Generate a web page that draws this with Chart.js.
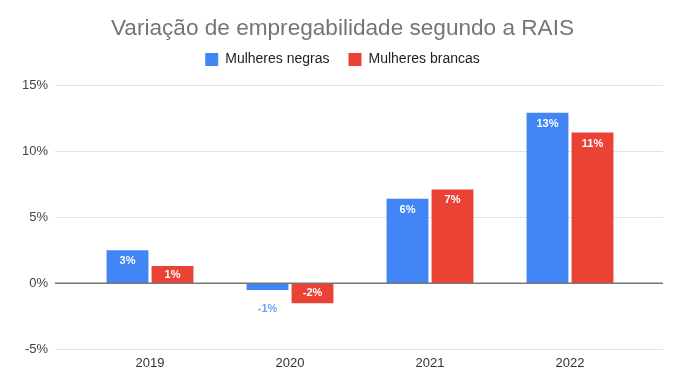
<!DOCTYPE html>
<html>
<head>
<meta charset="utf-8">
<script src="https://cdn.jsdelivr.net/npm/chart.js@4/dist/chart.umd.min.js"></script>
<style>
	html, body { margin: 0; padding: 0; background: #fff; }
	#wrap { width: 685px; height: 388px; }
</style>
</head>
<body>
<div id="wrap"><canvas id="chart-rais"></canvas></div>
<script>
let years = ['2019', '2020', '2021', '2022']
let mulheresNegras = [2.5, -0.5, 6.4, 12.9]
let mulheresBrancas = [1.3, -1.5, 7.1, 11.4]
let yTicks = [-5, 0, 5, 10, 15]

// grid lines and y labels go past the plot area, like the Sheets chart
const gridLines = {
	id: 'gridLines',
	beforeDatasetsDraw(chart) {
		const ctx = chart.ctx, area = chart.chartArea, y = chart.scales.y
		ctx.save()
		ctx.strokeStyle = '#e2e2e2'
		ctx.lineWidth = 1
		ctx.fillStyle = '#444'
		ctx.font = '13px "Liberation Sans", Arial, sans-serif'
		ctx.textAlign = 'right'
		ctx.textBaseline = 'middle'
		y.ticks.forEach(t => {
			const py = Math.round(y.getPixelForValue(t.value)) + 0.5
			ctx.fillText(t.value + '%', area.left - 32, py)
			if (t.value === 0) return
			ctx.beginPath()
			ctx.moveTo(area.left - 25, py)
			ctx.lineTo(area.right + 23, py)
			ctx.stroke()
		})
		ctx.restore()
	},
	afterDatasetsDraw(chart) {
		const ctx = chart.ctx, area = chart.chartArea, y = chart.scales.y
		ctx.save()
		const zy = y.getPixelForValue(0)
		ctx.strokeStyle = '#767676'
		ctx.lineWidth = 1.5
		ctx.beginPath()
		ctx.moveTo(area.left - 25, zy)
		ctx.lineTo(area.right + 23, zy)
		ctx.stroke()

		// value labels
		ctx.font = 'bold 11px "Liberation Sans", Arial, sans-serif'
		ctx.textAlign = 'center'
		ctx.textBaseline = 'middle'
		chart.data.datasets.forEach((ds, di) => {
			chart.getDatasetMeta(di).data.forEach((bar, i) => {
				const v = ds.data[i]
				const h = Math.abs(bar.base - bar.y)
				const dir = v >= 0 ? 1 : -1
				let cy
				if (h >= 24) {
					ctx.fillStyle = '#fff'
					cy = bar.y + dir * 11
				} else if (h >= 14) {
					ctx.fillStyle = '#fff'
					cy = (bar.y + bar.base) / 2
				} else {
					ctx.fillStyle = ds.labelOutside
					cy = bar.y - dir * 19
				}
				ctx.fillText(v.toFixed(0) + '%', bar.x, cy)
			})
		})
		ctx.restore()
	}
}

document.addEventListener('DOMContentLoaded', function() {
	Chart.defaults.font.family = '"Liberation Sans", Arial, sans-serif'
	Chart.defaults.animation = false

	new Chart(document.getElementById('chart-rais').getContext('2d'), {
		type: 'bar',
		data: {
			labels: years,
			datasets: [
				{
					label: 'Mulheres negras',
					data: mulheresNegras,
					backgroundColor: '#4285f4',
					labelOutside: '#6fa3f6',
					categoryPercentage: 0.643,
					barPercentage: 0.93
				},
				{
					label: 'Mulheres brancas',
					data: mulheresBrancas,
					backgroundColor: '#ea4335',
					labelOutside: '#ee6d62',
					categoryPercentage: 0.643,
					barPercentage: 0.93
				}
			]
		},
		options: {
			responsive: true,
			maintainAspectRatio: false,
			layout: { padding: { top: 0, left: 45, right: 45, bottom: 11 } },
			plugins: {
				title: {
					display: true,
					text: 'Variação de empregabilidade segundo a RAIS',
					color: '#757575',
					font: { size: 22.6, weight: 'normal' },
					padding: { top: 15, bottom: -8.6 }
				},
				legend: {
					labels: {
						boxWidth: 13,
						boxHeight: 13,
						color: '#222',
						font: { size: 14 },
						padding: 19
					}
				},
				// empty spacer under the legend
				subtitle: {
					display: true,
					text: '',
					weight: 500,
					font: { size: 8.5, lineHeight: 1 },
					padding: 0
				},
				tooltip: { enabled: false }
			},
			scales: {
				x: {
					grid: { display: false, drawTicks: false },
					border: { display: false },
					ticks: { color: '#333', font: { size: 13 }, padding: 6 }
				},
				y: {
					min: yTicks[0],
					max: yTicks[yTicks.length - 1],
					grid: { display: false, drawTicks: false },
					border: { display: false },
					afterFit: function(scale) {
						scale.width = 35
					},
					afterBuildTicks: function(scale) {
						scale.ticks = yTicks.map(v => ({ value: v }))
					},
					ticks: { display: false }
				}
			}
		},
		plugins: [gridLines]
	})
})
</script>
</body>
</html>
